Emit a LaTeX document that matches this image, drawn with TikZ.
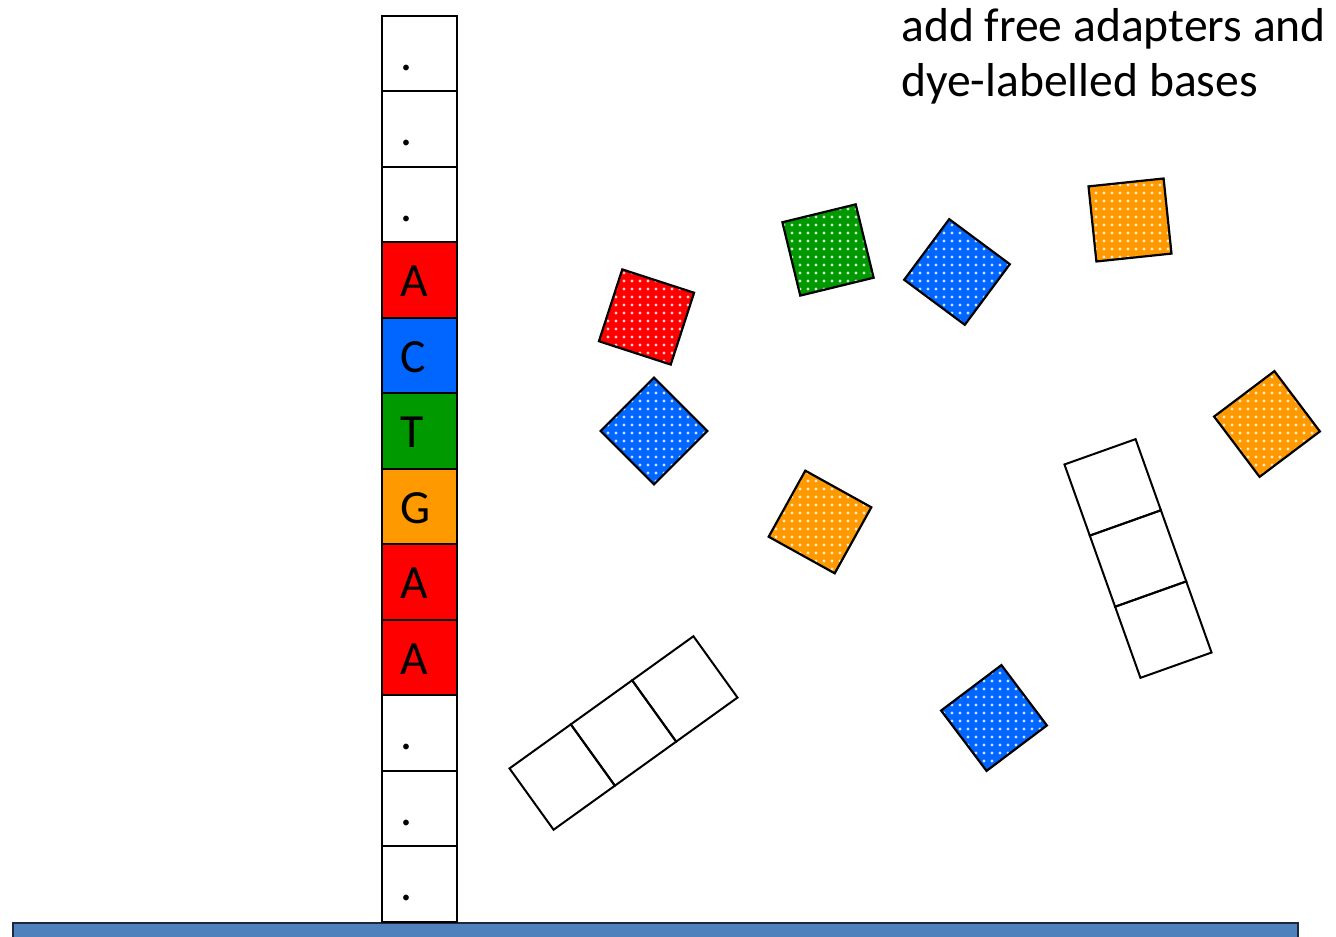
\documentclass[tikz,border=0pt]{standalone}
\usepackage{fontspec}
\setmainfont{Carlito}
\usetikzlibrary{patterns.meta,calc}
\definecolor{dred}{RGB}{255,0,0}
\definecolor{dblue}{RGB}{0,102,255}
\definecolor{dgreen}{RGB}{0,153,0}
\definecolor{dorange}{RGB}{255,153,0}
\definecolor{barblue}{RGB}{79,129,189}
\definecolor{barline}{RGB}{30,40,60}
\tikzset{
  cell/.style={draw=black, line width=2pt, minimum width=75.5pt, minimum height=75.5pt, inner sep=0pt, outer sep=0pt},
  dye/.style={draw=black, line width=2.2pt, minimum size=75.5pt, inner sep=0pt, preaction={fill=#1}, pattern={Dots[distance=8pt, radius=1.7pt]}, pattern color=white!80!#1},
  lbl/.style={anchor=base west, inner sep=0pt, font=\fontsize{47.6}{55}\selectfont},
}
\begin{document}
\begin{tikzpicture}[x=1pt,y=1pt]
\useasboundingbox (0,0) rectangle (1336,937);
\clip (0,0) rectangle (1336,937);
% bottom bar
\node[draw=barline, line width=2pt, fill=barblue, anchor=north west, minimum width=1285pt, minimum height=30pt, inner sep=0pt] (bar) at (12,15) {};
% column
\foreach \i/\col/\t in {0/white/., 1/white/., 2/white/., 3/dred/A, 4/dblue/C, 5/dgreen/T, 6/dorange/G, 7/dred/A, 8/dred/A, 9/white/., 10/white/., 11/white/.}{
  \node[cell, fill=\col] (c\i) at (419.5, 883.25-75.5*\i) {};
  \node[lbl] (l\i) at ($(c\i.south west)+(19,21)$) {\t};
}
% title
\node[lbl] (t1) at (901, 895) {add free adapters and};
\node[lbl] (t2) at (901, 840) {dye-labelled bases};
% free dye-labelled bases
\node[dye=dred, rotate=-18] (r1) at (646.5, 620) {};
\node[dye=dblue, rotate=45] (b1) at (654, 506) {};
\node[dye=dgreen, rotate=13.7] (g1) at (828, 687) {};
\node[dye=dblue, rotate=-36.6] (b2) at (957, 665) {};
\node[dye=dorange, rotate=6] (o1) at (1130, 717) {};
\node[dye=dorange, rotate=37] (o2) at (1267, 513) {};
\node[dye=dorange, rotate=-29] (o3) at (820, 415) {};
\node[dye=dblue, rotate=-53] (b3) at (994, 219) {};
% free adapters
\begin{scope}[shift={(623.5,204)}, rotate=35.7, transform shape]
  \foreach \k in {0,1,2}{\node[cell] (a1\k) at (-75.5+75.5*\k, 0) {};}
\end{scope}
\begin{scope}[shift={(1138,378.5)}, rotate=-70.4, transform shape]
  \foreach \k in {0,1,2}{\node[cell] (a2\k) at (-75.5+75.5*\k, 0) {};}
\end{scope}
\end{tikzpicture}
\end{document}
